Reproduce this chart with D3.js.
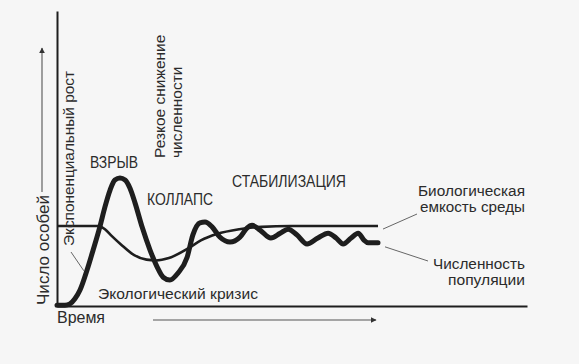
<!DOCTYPE html>
<html>
<head>
<meta charset="utf-8">
<script src="https://cdn.jsdelivr.net/npm/d3@7"></script>
<style>
  html, body { margin: 0; padding: 0; background: #f6f6f6; }
  svg { display: block; }
  text { font-family: "Liberation Sans", Arial, sans-serif; fill: #2b2b2b; }
</style>
</head>
<body>
<svg id="chart" width="579" height="364"></svg>
<script>
// ---- Data (time in arbitrary units, values relative to carrying capacity = 100) ----
const popTime  = [0, 2.5, 4, 5.6, 7.2, 9.4, 11.3, 13.4, 15, 16.6, 18.1, 19.7, 21.3, 22.8, 24.4, 26.6, 29.1, 31.3, 33.2, 35.3, 37.8, 40.7, 42.5, 44.7, 46.3, 48.5, 51, 54.1, 57.2, 59.4, 61, 63.5, 66.9, 69.8, 72.3, 75, 78.2, 81.6, 84.8, 87.3, 89.5, 92, 94.2, 96, 97.3, 100.4];
const popValue = [1, 1, 2.5, 9, 20, 45, 70, 99, 124, 145, 157.5, 160, 157.5, 147.5, 129, 99, 70, 49, 36, 32.5, 41, 61, 89, 104, 105, 99, 86, 80, 86, 97.5, 101, 95, 85, 91, 96, 89, 77.5, 85, 91, 85, 77.5, 85, 91, 82.5, 79, 79];

const capTime  = [0, 13, 15, 17, 20, 24, 28, 31, 35, 41, 45, 50, 57, 64, 73, 100.4];
const capValue = [100, 100, 96, 88, 77, 64, 58, 57, 60, 72, 82, 90, 96, 99, 100, 100];

const yTitle = "Число особей";
const xTitle = "Время";
const phaseLabels = ["ВЗРЫВ", "КОЛЛАПС", "СТАБИЛИЗАЦИЯ"];
const expLabel = "Экспоненциальный рост";
const dropLabel = ["Резкое снижение", "численности"];
const crisisLabel = "Экологический кризис";
const capLabel = ["Биологическая", "емкость среды"];
const popLabel = ["Численность", "популяции"];

// ---- Scales ----
const svg = d3.select("#chart");
const x = d3.scaleLinear().domain([0, 147]).range([57, 527]);
const y = d3.scaleLinear().domain([0, 369]).range([306, 11]);

svg.append("rect").attr("width", 579).attr("height", 364).attr("fill", "#f6f6f6");

// ---- Axes (no ticks) ----
const ink = "#1e1e1e";
svg.append("g").attr("transform", `translate(0,${y(0)})`)
  .call(d3.axisBottom(x).tickValues([]).tickSizeOuter(0));
svg.append("g").attr("transform", `translate(${x(0)},0)`)
  .call(d3.axisLeft(y).tickValues([]).tickSizeOuter(0));
svg.selectAll(".domain").attr("stroke", ink).attr("stroke-width", 2);

// ---- Direction arrows ----
const defs = svg.append("defs");
defs.append("marker").attr("id", "ah").attr("viewBox", "0 0 10 10")
  .attr("refX", 9).attr("refY", 5).attr("markerWidth", 6).attr("markerHeight", 6)
  .attr("orient", "auto").attr("markerUnits", "userSpaceOnUse")
  .append("path").attr("d", "M0,0 L10,5 L0,10 Z").attr("fill", "#333");

svg.append("line").attr("x1", 42).attr("y1", 192).attr("x2", 42).attr("y2", 48)
  .attr("stroke", "#555").attr("stroke-width", 1.1).attr("marker-end", "url(#ah)");
svg.append("line").attr("x1", 153).attr("y1", 320).attr("x2", 376).attr("y2", 320)
  .attr("stroke", "#555").attr("stroke-width", 1.1).attr("marker-end", "url(#ah)");

// ---- Curves ----
const line = d3.line().x(d => x(d[0])).y(d => y(d[1])).curve(d3.curveMonotoneX);
const capData = capTime.map((t, i) => [t, capValue[i]]);
const popData = popTime.map((t, i) => [t, popValue[i]]);

svg.append("path").datum(capData).attr("d", line)
  .attr("fill", "none").attr("stroke", ink).attr("stroke-width", 2.6);
svg.append("path").datum(popData).attr("d", line)
  .attr("fill", "none").attr("stroke", ink).attr("stroke-width", 5)
  .attr("stroke-linejoin", "round").attr("stroke-linecap", "round");

// ---- Leader lines (anchored to the curves through scales) ----
const lastCap = capData[capData.length - 1];
const lastPop = popData[popData.length - 1];
const leader = (x1, y1, x2, y2) => svg.append("line")
  .attr("x1", x1).attr("y1", y1).attr("x2", x2).attr("y2", y2)
  .attr("stroke", "#666").attr("stroke-width", 1);
leader(x(lastCap[0]) + 5, y(lastCap[1]) + 3, 417, 214);
leader(x(lastPop[0]) + 7, y(lastPop[1]) + 4, 428, 261);
leader(x(8.4), y(44), 71, 252);

// ---- Text ----
function txt(s, tx, ty, opts) {
  opts = opts || {};
  const t = svg.append("text")
    .attr("transform", `translate(${tx},${ty})` + (opts.rot ? " rotate(-90)" : ""))
    .attr("text-anchor", opts.anchor || "start")
    .attr("font-size", opts.size || 15.5);
  if (Array.isArray(s)) {
    s.forEach((line, i) => t.append("tspan").attr("x", 0).attr("dy", i === 0 ? 0 : opts.lh).text(line));
  } else {
    t.text(s);
    if (opts.len) t.attr("textLength", opts.len).attr("lengthAdjust", "spacingAndGlyphs");
  }
  return t;
}

txt(yTitle, 48.5, 305, { rot: true, size: 16.5, len: 110 });
txt(xTitle, 57, 323, { size: 16, len: 48 });
txt(expLabel, 73.5, 246, { rot: true, size: 15.5, len: 175 });
txt(dropLabel, 165, 158, { rot: true, size: 15.5, lh: 16.5 });
txt(phaseLabels[0], 90, 168, { size: 16, len: 48 });
txt(phaseLabels[1], 147, 205, { size: 16, len: 66 });
txt(phaseLabels[2], 232, 187, { size: 16, len: 114 });
txt(crisisLabel, 98, 299, { size: 15.5, len: 160 });

// right-hand labels: one text per line, sized so lines do not collide
txt(capLabel[0], 525, 196, { anchor: "end", size: 14, len: 107 });
txt(capLabel[1], 525, 212.3, { anchor: "end", size: 14, len: 105 });
txt(popLabel[0], 525, 269, { anchor: "end", size: 14, len: 92 });
txt(popLabel[1], 525, 285.3, { anchor: "end", size: 14, len: 77 });
</script>
</body>
</html>
